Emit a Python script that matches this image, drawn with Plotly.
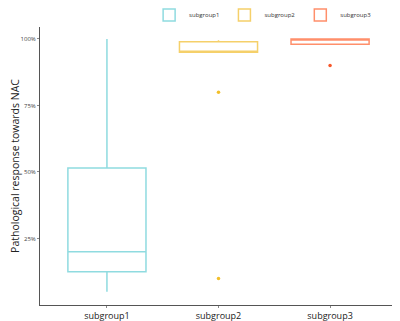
import plotly.graph_objects as go

categories = ["subgroup1", "subgroup2", "subgroup3"]
q1 = [0.125, 0.95, 0.98]
median = [0.20, 0.95, 1.00]
q3 = [0.515, 0.99, 1.00]
lowerfence = [0.05, 0.95, 0.98]
upperfence = [1.00, 0.995, 1.00]
outliers = [[], [0.80, 0.10], [0.90]]
colors = ["#8fdbe0", "#f5d06a", "#ff8f6b"]
marker_colors = ["#5ccdd4", "#f2bf2a", "#f7582a"]

tick_vals = [0.25, 0.5, 0.75, 1.0]
tick_text = ["25%", "50%", "75%", "100%"]

fig = go.Figure()
for i, c in enumerate(categories):
    fig.add_trace(go.Box(
        x=[c], q1=[q1[i]], median=[median[i]], q3=[q3[i]],
        lowerfence=[lowerfence[i]], upperfence=[upperfence[i]],
        name=c, line=dict(color=colors[i], width=1.5),
        fillcolor="rgba(255,255,255,0)", width=0.7, whiskerwidth=0,
        boxpoints=False,
    ))
    if outliers[i]:
        fig.add_trace(go.Scatter(
            x=[c] * len(outliers[i]), y=outliers[i], mode="markers",
            marker=dict(color=marker_colors[i], size=3.5),
            showlegend=False, hoverinfo="y",
        ))

# page body has an 8px default margin, so the figure is sized to fit the window
W, H = 392, 313
fig.update_layout(
    width=W, height=H,
    margin=dict(l=32, r=3, t=19, b=16, autoexpand=False),
    plot_bgcolor="white", paper_bgcolor="white",
    font=dict(family="Open Sans, DejaVu Sans, sans-serif", color="#222"),
    legend=dict(orientation="h", x=0.36, xanchor="left", y=1.0 - 7/H, yanchor="middle",
                yref="container", xref="container",
                font=dict(size=6, color="#333"), itemwidth=30, tracegroupgap=0),
    showlegend=True,
    xaxis=dict(categoryorder="array", categoryarray=categories, range=[-0.6, 2.6],
               showline=True, linecolor="#555", linewidth=1, automargin=False,
               ticks="outside", ticklen=2, tickcolor="#888",
               tickfont=dict(size=9, color="#222"), showgrid=False, zeroline=False),
    yaxis=dict(range=[0, 1.045], tickvals=tick_vals, ticktext=tick_text,
               showline=True, linecolor="#555", linewidth=1, automargin=False,
               ticks="outside", ticklen=2, tickcolor="#888",
               tickfont=dict(size=6, color="#444"), showgrid=False, zeroline=False,
               title=dict(text="Pathological response towards NAC", font=dict(size=10.5, color="#222"), standoff=6)),
)

fig.write_html("out.html")
